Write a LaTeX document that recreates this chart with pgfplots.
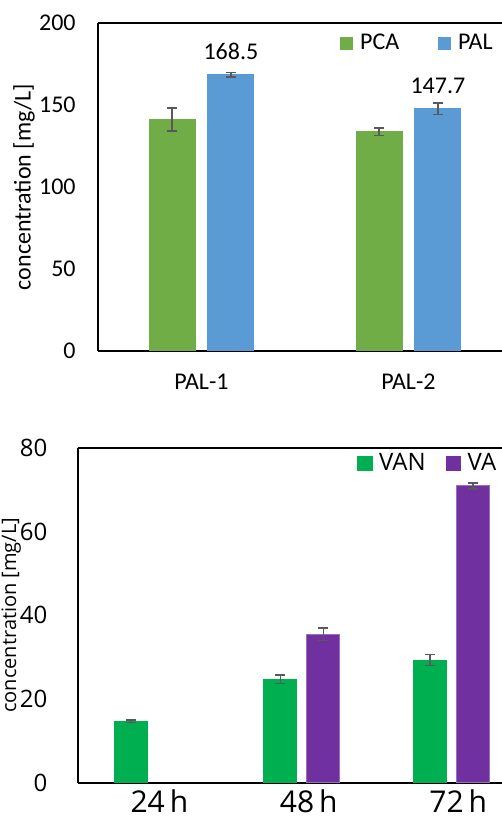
\documentclass[border=0pt]{standalone}
\usepackage{pgfplots}
\pgfplotsset{compat=1.18}
\usepackage{fontspec}
\setmainfont{Carlito}
\newfontfamily\opensans{Open Sans}
\definecolor{pcagreen}{HTML}{70AD47}
\definecolor{palblue}{HTML}{5B9BD5}
\definecolor{vangreen}{HTML}{00B050}
\definecolor{vapurple}{HTML}{7030A0}
\definecolor{errgray}{HTML}{595959}
\begin{document}
\begin{tikzpicture}
\useasboundingbox (0,0) rectangle (251pt,410pt);
% ---------------- top chart ----------------
\begin{axis}[
  at={(49pt,234.5pt)}, anchor=south west,
  width=202pt, height=164pt, scale only axis,
  xmin=0, xmax=1.9517, ymin=0, ymax=200, enlargelimits=false,
  axis x line*=box, axis y line*=left,
  ytick={0,50,100,150,200},
  xtick={0.5,1.5}, xticklabels={PAL-1,PAL-2},
  major tick length=0pt,
  axis line style={line width=1pt, black},
  ybar, bar width=23pt,
  /pgf/number format/assume math mode=true,
  tick label style={font=\fontsize{12}{14}\selectfont},
  label style={font=\fontsize{12}{14}\selectfont},
  yticklabel style={anchor=east, inner sep=0pt, xshift=-11pt},
  xticklabel style={anchor=base, inner sep=0pt, yshift=-19.5pt},
  ylabel={concentration [mg/L]},
  ylabel style={at={(axis description cs:-0.1666,0.5)}, anchor=base, inner sep=0pt},
  legend style={at={(axis description cs:0.599,0.939)}, anchor=west, draw=none, fill=none,
    inner sep=0pt, legend columns=2, nodes={inner sep=0pt}, font=\fontsize{12}{14}\selectfont,
    /tikz/every odd column/.append style={column sep=3.5pt},
    /tikz/every even column/.append style={column sep=19.5pt}},
]
\addplot[fill=pcagreen, draw=pcagreen, bar shift=-14.7pt,
  legend image code/.code={\fill[pcagreen] (0pt,-3pt) rectangle (6pt,3pt);},
  error bars/.cd, y dir=both, y explicit,
  error bar style={errgray, line width=0.8pt},
  error mark options={rotate=90, errgray, mark size=2.5pt, line width=0.8pt}]
  coordinates {(0.5,141.0) +- (0,7.0) (1.5,133.7) +- (0,2.3)};
\addplot[fill=palblue, draw=palblue, bar shift=14.7pt,
  nodes near coords={\pgfmathprintnumber[fixed,precision=1,fixed zerofill]{\pgfplotspointmeta}},
  nodes near coords style={anchor=center, yshift=11.5pt, font=\fontsize{12}{14}\selectfont, black},
  legend image code/.code={\fill[palblue] (0pt,-3pt) rectangle (6pt,3pt);},
  error bars/.cd, y dir=both, y explicit,
  error bar style={errgray, line width=0.8pt},
  error mark options={rotate=90, errgray, mark size=2.5pt, line width=0.8pt}]
  coordinates {(0.5,168.5) +- (0,1.4) (1.5,147.7) +- (0,3.5)};
\legend{PCA,PAL}
\end{axis}
% ---------------- bottom chart ----------------
\begin{axis}[
  at={(38.85pt,18.65pt)}, anchor=south west,
  width=212.15pt, height=167.5pt, scale only axis,
  xmin=0, xmax=2.840, ymin=0, ymax=80, enlargelimits=false,
  axis x line*=box, axis y line*=left,
  ytick={0,20,40,60,80},
  xtick={0.5,1.5,2.5}, xticklabels={24\,h,48\,h,72\,h},
  major tick length=0pt,
  axis line style={line width=1pt, black},
  ybar, bar width=16.5pt,
  /pgf/number format/assume math mode=true,
  yticklabel style={anchor=east, inner sep=0pt, xshift=-15pt, font=\opensans\fontsize{12}{14}\selectfont},
  xticklabel style={anchor=base, inner sep=0pt, yshift=-15pt, xshift=3.5pt, font=\opensans\fontsize{15}{18}\selectfont},
  ylabel={concentration [mg/L]},
  ylabel style={at={(axis description cs:-0.1454,0.5)}, anchor=base, inner sep=0pt, font=\opensans\fontsize{10}{12}\selectfont},
  legend style={at={(axis description cs:0.658,0.953)}, anchor=west, draw=none, fill=none,
    inner sep=0pt, legend columns=2, nodes={inner sep=0pt}, font=\opensans\fontsize{12}{14}\selectfont,
    /tikz/every odd column/.append style={column sep=3.3pt},
    /tikz/every even column/.append style={column sep=10pt}},
]
\addplot[fill=vangreen, draw=vangreen, bar shift=-10.75pt,
  legend image code/.code={\fill[vangreen] (0pt,-3.6pt) rectangle (7.2pt,3.6pt);},
  error bars/.cd, y dir=both, y explicit,
  error bar style={errgray, line width=0.8pt},
  error mark options={rotate=90, errgray, mark size=2.5pt, line width=0.8pt}]
  coordinates {(0.5,14.7) +- (0,0.3) (1.5,24.7) +- (0,1.0) (2.5,29.3) +- (0,1.35)};
\addplot[fill=vapurple, draw=vapurple!70!white, line width=0.5pt, bar shift=10.75pt,
  legend image code/.code={\fill[vapurple] (0pt,-3.6pt) rectangle (7.2pt,3.6pt);},
  error bars/.cd, y dir=both, y explicit,
  error bar style={errgray, line width=0.8pt},
  error mark options={rotate=90, errgray, mark size=2.5pt, line width=0.8pt}]
  coordinates {(1.5,35.5) +- (0,1.5) (2.5,70.9) +- (0,0.7)};
\legend{VAN,VA}
\end{axis}
\end{tikzpicture}
\end{document}
